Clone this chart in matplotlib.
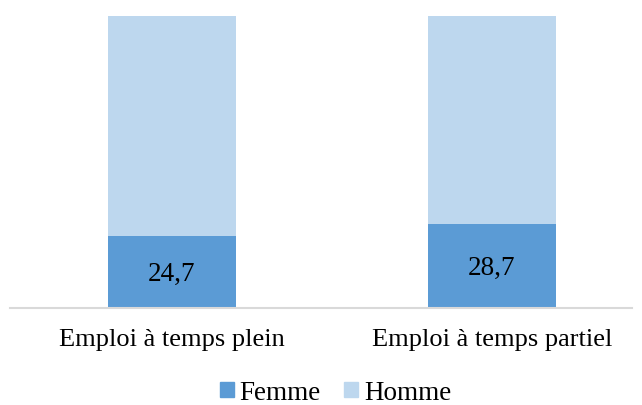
import matplotlib
matplotlib.use("Agg")
import matplotlib.pyplot as plt
from matplotlib.patches import Patch

categories = ["Emploi à temps plein", "Emploi à temps partiel"]
femme = [24.7, 28.7]
homme = [75.3, 71.3]
labels = ["24,7", "28,7"]

plt.rcParams['font.family'] = ['Liberation Serif', 'DejaVu Serif']

fig = plt.figure(figsize=(6.42, 4.05), dpi=100)
ax = fig.add_axes([10/642, 97/405, 622/642, 292/405])

x = list(range(len(categories)))
c_f = "#5B9BD5"
c_h = "#BDD7EE"
ax.bar(x, femme, width=0.4, color=c_f, label="Femme")
ax.bar(x, homme, width=0.4, bottom=femme, color=c_h, label="Homme")

for xi, v, t in zip(x, femme, labels):
    ax.annotate(t, (xi, v / 2), xytext=(0, -2), textcoords="offset points",
                ha="center", va="center", fontsize=19.5, color="black")

ax.set_xlim(-0.506, 1.438)
ax.set_ylim(0, 100)
for s in ["top", "right", "left"]:
    ax.spines[s].set_visible(False)
ax.spines["bottom"].set_color("#d9d9d9")
ax.spines["bottom"].set_linewidth(1.5)
ax.set_yticks([])
ax.set_xticks(x)
ax.set_xticklabels(categories, fontsize=19)
ax.tick_params(axis="x", length=0, pad=15)

handles = [Patch(color=c_f), Patch(color=c_h)]
fig.legend(handles, ["Femme", "Homme"], loc="center", bbox_to_anchor=(335.5/642, 1 - 393/405),
           ncol=2, frameon=False, fontsize=19.5, handlelength=0.52, handleheight=0.48,
           handletextpad=0.22, columnspacing=0.85, borderpad=0)

fig.savefig("out.png", dpi=100)
